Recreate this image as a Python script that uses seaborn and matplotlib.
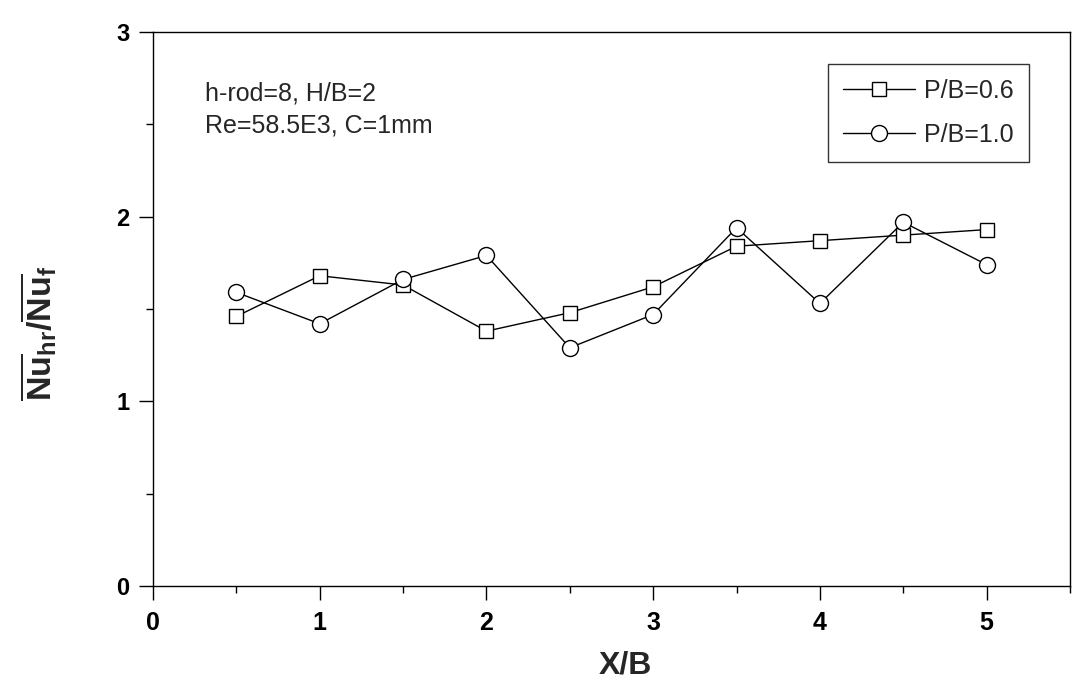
import pandas as pd
import matplotlib
matplotlib.use('Agg')
from matplotlib import pyplot as plt
from matplotlib.ticker import MultipleLocator
import seaborn as sns

# data
xb = [0.5, 1.0, 1.5, 2.0, 2.5, 3.0, 3.5, 4.0, 4.5, 5.0]
nu_pb06 = [1.46, 1.68, 1.63, 1.38, 1.48, 1.62, 1.84, 1.87, 1.90, 1.93]
nu_pb10 = [1.59, 1.42, 1.66, 1.79, 1.29, 1.47, 1.94, 1.53, 1.97, 1.74]
series_labels = ['P/B=0.6', 'P/B=1.0']
notes = ['h-rod=8, H/B=2', 'Re=58.5E3, C=1mm']

sns.set_theme(style="white")
plt.rcParams['font.family'] = ['Liberation Sans', 'DejaVu Sans']
plt.rcParams['mathtext.fontset'] = 'custom'
plt.rcParams['mathtext.rm'] = 'Liberation Sans:bold'
plt.rcParams['mathtext.it'] = 'Liberation Sans:bold'
plt.rcParams['mathtext.bf'] = 'Liberation Sans:bold'

df = pd.DataFrame({'x': xb, 'a': nu_pb06, 'b': nu_pb10})

fig = plt.figure(figsize=(10.78, 6.82), dpi=100)
ax = fig.add_axes([153 / 1078, 96 / 682, 917 / 1078, 554 / 682])

sns.lineplot(data=df, x='x', y='a', ax=ax, color='black', lw=1,
             marker='s', ms=10, mfc='white', mec='black', mew=1,
             label=series_labels[0])
sns.lineplot(data=df, x='x', y='b', ax=ax, color='black', lw=1,
             marker='o', ms=11.5, mfc='white', mec='black', mew=1,
             label=series_labels[1])

ax.set_xlim(0, 5.5)
ax.set_ylim(0, 3)
ax.xaxis.set_major_locator(MultipleLocator(1))
ax.xaxis.set_minor_locator(MultipleLocator(0.5))
ax.yaxis.set_major_locator(MultipleLocator(1))
ax.yaxis.set_minor_locator(MultipleLocator(0.5))
ax.tick_params(which='major', direction='out', length=10, width=1, color='black',
               labelsize=17, labelcolor='black')
ax.tick_params(which='minor', direction='out', length=5, width=1, color='black')
ax.tick_params(axis='y', pad=7)
ax.tick_params(axis='x', pad=8, labelsize=18)
ax.tick_params(bottom=True, left=True, which='both')
for lbl in ax.get_xticklabels() + ax.get_yticklabels():
    lbl.set_fontweight('bold')
for sp in ax.spines.values():
    sp.set_color('black')
    sp.set_linewidth(1)
ax.set_xlabel('')
ax.set_ylabel('')

fig.text(625 / 1078, 1 - 666 / 682, 'X/B', fontsize=23, fontweight='bold',
         ha='center', va='center')
fig.text(39 / 1078, 1 - 333 / 682,
         r'$\overline{\mathrm{Nu}}_{\mathrm{hr}}/\overline{\mathrm{Nu}}_{\mathrm{f}}$',
         fontsize=24.5, rotation=90, ha='center', va='center')

fig.text(205 / 1078, 1 - 100 / 682, notes[0], fontsize=18, va='baseline', ha='left')
fig.text(205 / 1078, 1 - 132 / 682, notes[1], fontsize=18, va='baseline', ha='left')

leg = ax.legend(loc='upper right', bbox_to_anchor=((1029 - 153) / 917, 1 - (64 - 32) / 554),
                fontsize=18, frameon=True, fancybox=False, edgecolor='black',
                handlelength=2.9, handletextpad=0.36, borderpad=0.6, labelspacing=0.8,
                borderaxespad=0)
leg.get_frame().set_linewidth(1)

plt.savefig('out.png', dpi=100)
